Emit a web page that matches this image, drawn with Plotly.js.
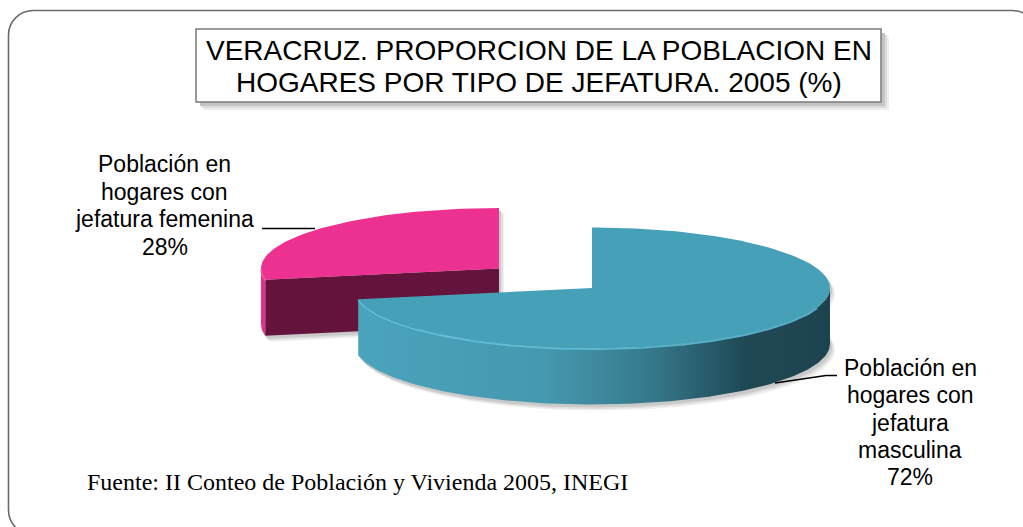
<!DOCTYPE html>
<html><head><meta charset="utf-8">
<script src="https://cdn.plot.ly/plotly-3.0.1.min.js"></script>
<style>html,body{margin:0;padding:0;background:#fff;overflow:hidden}#chart{width:1023px;height:527px}</style>
</head><body><div id="chart"></div>
<script>
// ---------- data ----------
const categories = ['Población en hogares con jefatura masculina', 'Población en hogares con jefatura femenina'];
const values = [72, 28];
const labelLines = [
  ['Población en', 'hogares con', 'jefatura', 'masculina'],
  ['Población en', 'hogares con', 'jefatura femenina']
];
const titleLines = ['VERACRUZ. PROPORCION DE LA POBLACION EN', 'HOGARES POR TIPO DE JEFATURA. 2005 (%)'];
const sourceText = 'Fuente: II Conteo de Población y Vivienda 2005, INEGI';

// ---------- geometry & style ----------
const CX = 592, CY = 288, A = 238, B = 60.5, DEPTH = 56;
const pulls = [0, 0.507];
const topColors = ['#46a0b8', '#ec3190'];
const faceColors = ['#2f6f80', '#64143c'];
const wallColors = ['#3f8fa5', '#e3308b'];
const wallGradients = [
  [[0, '#4aa4bc'], [0.40, '#4598af'], [0.62, '#36798c'], [0.82, '#1f4855'], [1, '#1e4350']],
  null
];

const total = values.reduce((s, v) => s + v, 0);
let acc = 0;
const slices = values.map((v, i) => {
  const t0 = acc / total * 2 * Math.PI; acc += v;
  const t1 = acc / total * 2 * Math.PI;
  const mid = (t0 + t1) / 2;
  return { i, v, t0, t1, ox: A * pulls[i] * Math.sin(mid), oy: -B * pulls[i] * Math.cos(mid) };
});

function pt(s, th, dz) { return [CX + s.ox + A * Math.sin(th), CY + s.oy - B * Math.cos(th) + dz]; }
function arc(s, a0, a1, dz) {
  const xs = [], ys = [];
  const N = Math.max(2, Math.ceil(Math.abs(a1 - a0) / 0.02));
  for (let k = 0; k <= N; k++) { const p = pt(s, a0 + (a1 - a0) * k / N, dz); xs.push(p[0]); ys.push(p[1]); }
  return [xs, ys];
}
function sector(s, dz) { const [xs, ys] = arc(s, s.t0, s.t1, dz); return [[CX + s.ox, ...xs, CX + s.ox], [CY + s.oy + dz, ...ys, CY + s.oy + dz]]; }
function poly(xs, ys, color, extra) {
  return Object.assign({ type: 'scatter', mode: 'lines', x: xs, y: ys, fill: 'toself', fillcolor: color,
    line: { width: 0, color: color }, hoverinfo: 'skip', showlegend: false }, extra || {});
}

const traces = [];
const order = slices.slice().sort((p, q) => p.oy - q.oy);

// soft shadows
const shadowLayers = [[5, 6, '#efefef'], [3.5, 4.5, '#dedede'], [2, 3, '#c9c9c9']];
order.forEach(s => {
  shadowLayers.forEach(([dx, dy, c]) => {
    [0, DEPTH].forEach(dz => {
      const [xs, ys] = sector(s, dz);
      traces.push(poly(xs.map(x => x + dx), ys.map(y => y + dy), c));
    });
  });
});

order.forEach(s => {
  // radial faces
  [[s.t0, Math.sin(s.t0) < -1e-9], [s.t1, Math.sin(s.t1) > 1e-9]].forEach(([th, vis]) => {
    if (!vis) return;
    const p0 = pt(s, th, 0), p1 = pt(s, th, DEPTH);
    traces.push(poly([CX + s.ox, p0[0], p1[0], CX + s.ox, CX + s.ox], [CY + s.oy, p0[1], p1[1], CY + s.oy + DEPTH, CY + s.oy], faceColors[s.i]));
  });
  // outer wall (front half only)
  const w0 = Math.max(s.t0, Math.PI / 2), w1 = Math.min(s.t1, 3 * Math.PI / 2);
  if (w1 > w0) {
    const [tx, ty] = arc(s, w0, w1, 0);
    const [bx, by] = arc(s, w0, w1, DEPTH);
    const xs = tx.concat(bx.slice().reverse(), [tx[0]]);
    const ys = ty.concat(by.slice().reverse(), [ty[0]]);
    const extra = wallGradients[s.i] ? { fillgradient: { type: 'horizontal', colorscale: wallGradients[s.i] } } : {};
    traces.push(poly(xs, ys, wallColors[s.i], extra));
  }
  // top face
  const [xs, ys] = sector(s, 0);
  traces.push(poly(xs, ys, topColors[s.i]));
  // rim highlight on front edge
  if (w1 > w0) {
    const [hx, hy] = arc(s, Math.max(w0, 1.9), w1, 0.8);
    traces.push({ type: 'scatter', mode: 'lines', x: hx, y: hy, line: { color: s.i === 0 ? '#63c7e2' : '#f25aa6', width: 1.6 },
      opacity: 0.8, hoverinfo: 'skip', showlegend: false });
  }
});

// ---------- annotations ----------
const ann = [];
const titleFont = { family: 'Liberation Sans, Arial, sans-serif', size: 28, color: '#000' };
const labFont = { family: 'Liberation Sans, Arial, sans-serif', size: 23, color: '#000' };
[50, 82].forEach((y, k) => ann.push({ x: 539, y, xref: 'x', yref: 'y', text: titleLines[k], showarrow: false, font: titleFont, xanchor: 'center', yanchor: 'middle' }));

const labelPos = [{ x: 910, y0: 368, dy: 27.3 }, { x: 164.5, y0: 164, dy: 27.7 }];
slices.forEach(s => {
  const lines = labelLines[s.i].concat([s.v + '%']);
  const lp = labelPos[s.i];
  lines.forEach((t, k) => ann.push({ x: lp.x, y: lp.y0 + k * lp.dy, xref: 'x', yref: 'y', text: t, showarrow: false, font: labFont, xanchor: 'center', yanchor: 'middle' }));
});
ann.push({ x: 85, y: 482, xref: 'x', yref: 'y', text: sourceText, showarrow: false, xanchor: 'left', yanchor: 'middle',
  font: { family: 'Liberation Serif, Times New Roman, serif', size: 24, color: '#000' } });

// ---------- shapes ----------
const k = 13.8;
const framePath = 'M 8.5,35 C 8.5,' + (35 - k) + ' ' + (33.5 - k) + ',10.5 33.5,10.5 ' +
  'L 1012,10.5 C ' + (1012 + k) + ',10.5 1037,' + (35.5 - k) + ' 1037,35.5 ' +
  'L 1037,510 C 1037,' + (510 + k) + ' ' + (1012 + k) + ',535 1012,535 ' +
  'L 33.5,535 C ' + (33.5 - k) + ',535 8.5,' + (510 + k) + ' 8.5,510 Z';
const shapes = [
  { type: 'path', xref: 'x', yref: 'y', layer: 'below', path: framePath,
    line: { color: '#6b6b6b', width: 1.6 }, fillcolor: 'rgba(0,0,0,0)' },
  { type: 'rect', xref: 'x', yref: 'y', layer: 'below', x0: 204, y0: 37, x1: 889, y1: 110, line: { width: 0 }, fillcolor: '#eeeeee' },
  { type: 'rect', xref: 'x', yref: 'y', layer: 'below', x0: 202, y0: 35, x1: 887, y1: 108, line: { width: 0 }, fillcolor: '#dcdcdc' },
  { type: 'rect', xref: 'x', yref: 'y', layer: 'below', x0: 200, y0: 33, x1: 885, y1: 106, line: { width: 0 }, fillcolor: '#c4c4c4' },
  { type: 'rect', xref: 'x', yref: 'y', layer: 'below', x0: 196, y0: 29, x1: 881, y1: 102, line: { color: '#7a7a7a', width: 1.5 }, fillcolor: '#ffffff' },
  { type: 'path', xref: 'x', yref: 'y', path: 'M 262,228.5 L 315,228.5', line: { color: '#000', width: 1.5 } },
  { type: 'path', xref: 'x', yref: 'y', path: 'M 775,383 L 826,375.5 L 837,375.5', line: { color: '#000', width: 1.5 } }
];

const layout = {
  width: 1023, height: 527, margin: { l: 0, r: 0, t: 0, b: 0 },
  paper_bgcolor: '#fff', plot_bgcolor: '#fff', showlegend: false,
  xaxis: { range: [0, 1023], visible: false, fixedrange: true },
  yaxis: { range: [527, 0], visible: false, fixedrange: true },
  annotations: ann, shapes: shapes
};
Plotly.newPlot('chart', traces, layout, { staticPlot: true, displayModeBar: false });
</script>
</body></html>
